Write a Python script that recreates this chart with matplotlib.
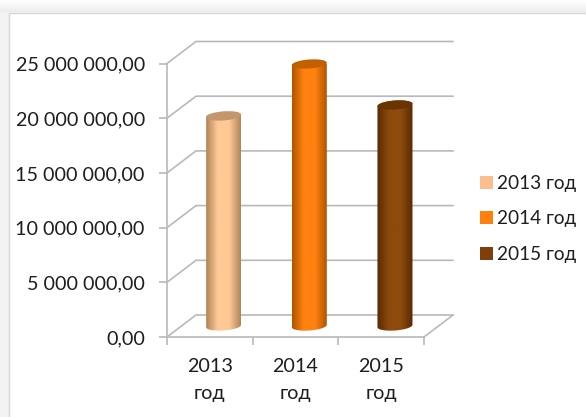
import numpy as np
import matplotlib
matplotlib.use("Agg")
import matplotlib.pyplot as plt
from matplotlib.colors import LinearSegmentedColormap
from matplotlib.patches import Patch, Polygon, Rectangle

plt.rcParams['font.family'] = ['Lato', 'Open Sans', 'DejaVu Sans']

years = ['2013 год', '2014 год', '2015 год']
tick_names = ['2013\nгод', '2014\nгод', '2015\nгод']
values = [19200000, 23950000, 20200000]
yticks = [0, 5000000, 10000000, 15000000, 20000000, 25000000]
ylabels = ['0,00', '5 000 000,00', '10 000 000,00', '15 000 000,00', '20 000 000,00', '25 000 000,00']

swatch = ['#FBBE8C', '#FF7F11', '#7F3F0B']
centre = ['#FFC996', '#FF8210', '#8E4A0C']
edge = ['#B08659', '#B25500', '#592A02']
top = ['#C4966C', '#C25F00', '#693400']

W, H = 586, 417
fig = plt.figure(figsize=(W / 100, H / 100), dpi=100, facecolor='#F3F3F3')

# window shadow above and left of the white panel
band = fig.add_axes([0, 0, 1, 1], zorder=0)
band.axis('off')
band.imshow(np.linspace(1, 0.93, 12)[:, None], cmap='gray', vmin=0, vmax=1,
            extent=[0, W, 12, 0], aspect='auto')
band.add_patch(Rectangle((9, 12.5), W, H, fc='white', ec='#D8D8D8', lw=1))
band.set_xlim(0, W)
band.set_ylim(H, 0)

ax = fig.add_axes([167 / W, 1 - 337 / H, 257 / W, 273.5 / H], zorder=1)
ax.patch.set_alpha(0)
ymax = 25000000
px_x = 3 / 257
px_y = ymax / 273.5
dx = 29 * px_x
dy = 22 * px_y
grid_c = '#B9B9B9'

# back wall and side wall of the fake 3d box
for v in yticks:
    ax.plot([-0.5, -0.5 + dx, 2.5 + dx], [v, v + dy, v + dy], color=grid_c, lw=1.2,
            clip_on=False, zorder=1, solid_joinstyle='miter')
ax.plot([2.5, 2.5 + dx], [0, dy], color=grid_c, lw=1.2, clip_on=False, zorder=1)

# cylinders
bar_w = 35 * px_x
ell_h = 9 * px_y
tilt = 1.2 * px_y
t = np.linspace(0, np.pi, 40)
for i, v in enumerate(values):
    xc = i + dx / 2 - 0.7 * px_x
    base = dy / 2
    end = base + v
    xs = xc + bar_w / 2 * np.cos(t)
    # top edge runs right to left, bottom edge left to right
    up = end + ell_h / 2 * np.sin(t) + tilt * np.cos(t)
    low = base - ell_h / 2 * np.sin(t) + tilt * np.cos(t)
    outline = np.vstack([np.column_stack([xs, up]), np.column_stack([xs[::-1], low[::-1]])])
    body = Polygon(outline, closed=True, transform=ax.transData, fc='none', ec='none')
    ax.add_patch(body)
    cm = LinearSegmentedColormap.from_list('c', [edge[i], centre[i], centre[i], edge[i]])
    grad = np.linspace(0, 1, 64)[None, :]
    im = ax.imshow(grad, cmap=cm, aspect='auto', interpolation='bilinear', zorder=3,
                   extent=[xc - bar_w / 2, xc + bar_w / 2, base - ell_h, end + ell_h])
    im.set_clip_path(body)
    cap_t = np.linspace(0, 2 * np.pi, 80)
    cap = np.column_stack([xc + bar_w / 2 * np.cos(cap_t),
                           end + ell_h / 2 * np.sin(cap_t) + tilt * np.cos(cap_t)])
    ax.add_patch(Polygon(cap, closed=True, fc=top[i], ec='none', zorder=4, clip_on=False))

ax.set_xlim(-0.5, 2.5)
ax.set_ylim(0, ymax)
for s in ['top', 'right']:
    ax.spines[s].set_visible(False)
for s in ['left', 'bottom']:
    ax.spines[s].set_color(grid_c)
    ax.spines[s].set_linewidth(1.2)

ax.set_yticks(yticks)
ax.set_yticklabels(ylabels, fontsize=14.2, color='#1E1E1E')
ax.set_xticks([-0.5, 0.5, 1.5, 2.5], minor=False)
ax.set_xticklabels([])
ax.set_xticks([0, 1, 2], minor=True)
ax.set_xticklabels(tick_names, minor=True, fontsize=14.2, color='#1E1E1E', linespacing=1.72)
ax.tick_params(axis='y', length=6, width=1.2, color=grid_c, pad=10)
ax.tick_params(axis='x', which='major', length=6, width=1.2, color=grid_c)
ax.tick_params(axis='x', which='minor', length=0, pad=15)

handles = [Patch(fc=swatch[i], ec='none', label=years[i]) for i in range(3)]
fig.legend(handles=handles, loc='center left', bbox_to_anchor=(463 / W, 1 - 219 / H),
           frameon=False, fontsize=13.7, labelcolor='#1E1E1E', handlelength=0.67,
           handleheight=0.67, handletextpad=0.22, labelspacing=0.98)

fig.savefig('out.png', dpi=100, facecolor=fig.get_facecolor())
